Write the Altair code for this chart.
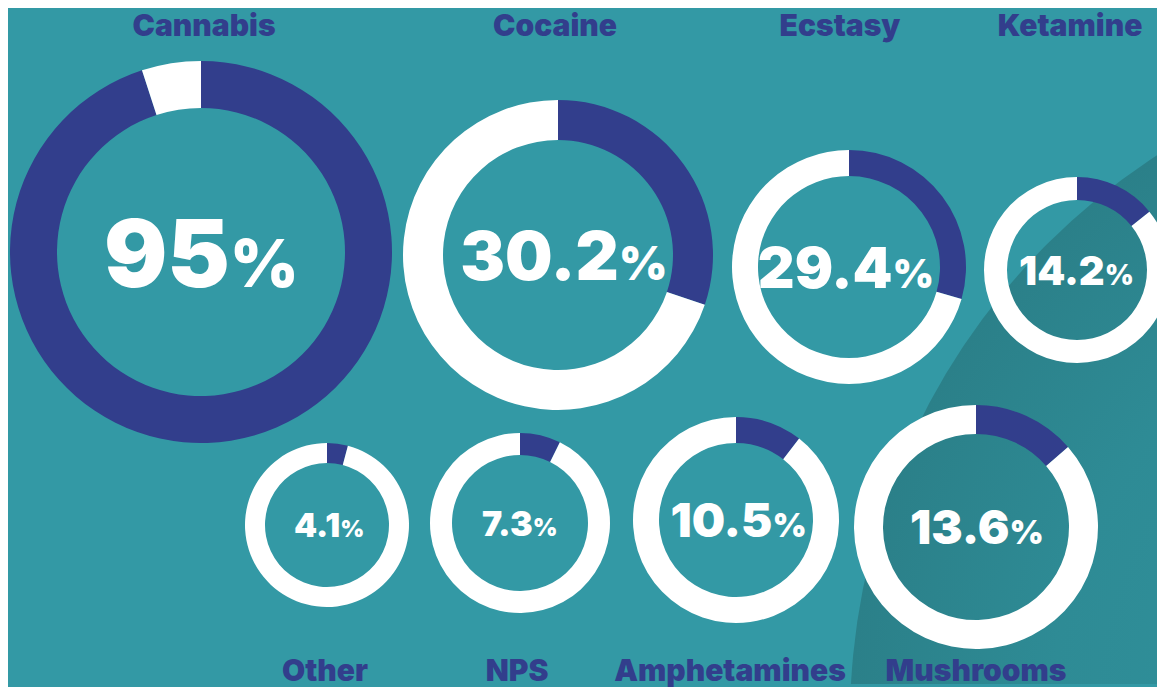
import math
import altair as alt
import pandas as pd

# ---- data ----
categories = ["Cannabis", "Cocaine", "Ecstasy", "Ketamine",
              "Other", "NPS", "Amphetamines", "Mushrooms"]
values = [95, 30.2, 29.4, 14.2, 4.1, 7.3, 10.5, 13.6]
value_labels = ["95", "30.2", "29.4", "14.2", "4.1", "7.3", "10.5", "13.6"]

# ---- layout (page pixel coordinates) ----
center_x = [201, 558, 849, 1077, 327, 520, 736, 976]
center_y = [252, 255, 267, 270, 525, 523, 520, 527]
outer_r = [191, 155, 117, 93, 82, 90, 103, 122]
inner_r = [144, 115, 91, 70, 62, 68, 77, 93]
number_size = [94, 67, 57, 40, 33, 34, 47, 47]
label_dx = [-3, 6, -3, -5, -3, -4, -2, -5]
title_x = [204, 555, 840, 1070, 325, 517, 730, 976]
title_y = [36, 36, 36, 36, 681, 681, 681, 681]
shade_circle = {"x": 1523, "y": 720, "r": 673}

W, H, M = 1165, 692, 8
PW, PH = W - 2 * M, H - 2 * M

DARK = "#323E8C"
BG = "#3399A5"
WHITE = "#FFFFFF"
FONT = "Inter"

TAU = 2 * math.pi

arc_rows = []
for i, c in enumerate(categories):
    end = TAU * values[i] / 100.0
    common = dict(cat=c, x=center_x[i], y=center_y[i], r=outer_r[i], r2=inner_r[i])
    arc_rows.append(dict(common, part="use", t0=0.0, t1=end))
    arc_rows.append(dict(common, part="rest", t0=end, t1=TAU))
arcs = pd.DataFrame(arc_rows)

lab_rows = []
for i, c in enumerate(categories):
    fs = number_size[i]
    pfs = fs * 0.7
    lab = value_labels[i]
    nd = sum(ch.isdigit() for ch in lab)
    ndot = lab.count(".")
    num_w = fs * (0.655 * nd + 0.30 * ndot)
    pct_w = pfs * 0.9
    x0 = center_x[i] + label_dx[i] + (num_w - pct_w) / 2.0
    lab_rows.append(dict(cat=c, num=lab, pct="%", x=x0, y=center_y[i] + 0.37 * fs,
                         fs=fs, pfs=pfs, tx=title_x[i], ty=title_y[i]))
labels = pd.DataFrame(lab_rows)

shade = pd.DataFrame([dict(x=shade_circle["x"], y=shade_circle["y"],
                           r=shade_circle["r"], t0=0.0, t1=TAU)])

xs = alt.Scale(domain=[M, W - M], nice=False, zero=False)
ys = alt.Scale(domain=[H - M, M], nice=False, zero=False)

shade_fill = alt.RadialGradient(
    gradient="radial",
    stops=[
        alt.GradientStop(offset=0.0, color="#3196A1"),
        alt.GradientStop(offset=0.7, color="#2E8B95"),
        alt.GradientStop(offset=1.0, color="#2B8089"),
    ],
    x1=0.5, y1=0.5, r1=0.0, x2=0.5, y2=0.5, r2=0.5,
)

bg_layer = alt.Chart(shade).mark_arc(color=shade_fill, clip=True).encode(
    x=alt.X("x:Q", scale=xs, axis=None),
    y=alt.Y("y:Q", scale=ys, axis=None),
    theta=alt.Theta("t0:Q", scale=None),
    theta2="t1:Q",
    radius=alt.Radius("r:Q", scale=None),
)

donuts = alt.Chart(arcs).mark_arc(clip=True).encode(
    x=alt.X("x:Q", scale=xs, axis=None),
    y=alt.Y("y:Q", scale=ys, axis=None),
    theta=alt.Theta("t0:Q", scale=None),
    theta2="t1:Q",
    radius=alt.Radius("r:Q", scale=None),
    radius2="r2:Q",
    color=alt.Color("part:N", scale=alt.Scale(domain=["use", "rest"], range=[DARK, WHITE]),
                    legend=None),
)

numbers = alt.Chart(labels).mark_text(
    font=FONT, fontWeight=900, color=WHITE, align="right", baseline="alphabetic"
).encode(
    x=alt.X("x:Q", scale=xs, axis=None),
    y=alt.Y("y:Q", scale=ys, axis=None),
    text="num:N",
    size=alt.Size("fs:Q", scale=None, legend=None),
)

pcts = alt.Chart(labels).mark_text(
    font=FONT, fontWeight=900, color=WHITE, align="left", baseline="alphabetic"
).encode(
    x=alt.X("x:Q", scale=xs, axis=None),
    y=alt.Y("y:Q", scale=ys, axis=None),
    text="pct:N",
    size=alt.Size("pfs:Q", scale=None, legend=None),
)

titles = alt.Chart(labels).mark_text(
    font=FONT, fontWeight=900, fontSize=30, color=DARK,
    align="center", baseline="alphabetic"
).encode(
    x=alt.X("tx:Q", scale=xs, axis=None),
    y=alt.Y("ty:Q", scale=ys, axis=None),
    text="cat:N",
)

chart = alt.layer(bg_layer, donuts, numbers, pcts, titles).properties(
    width=PW, height=PH, padding=0, background=BG
).configure_view(stroke=None)

chart.save("out.html", embed_options={"renderer": "svg", "actions": False})
